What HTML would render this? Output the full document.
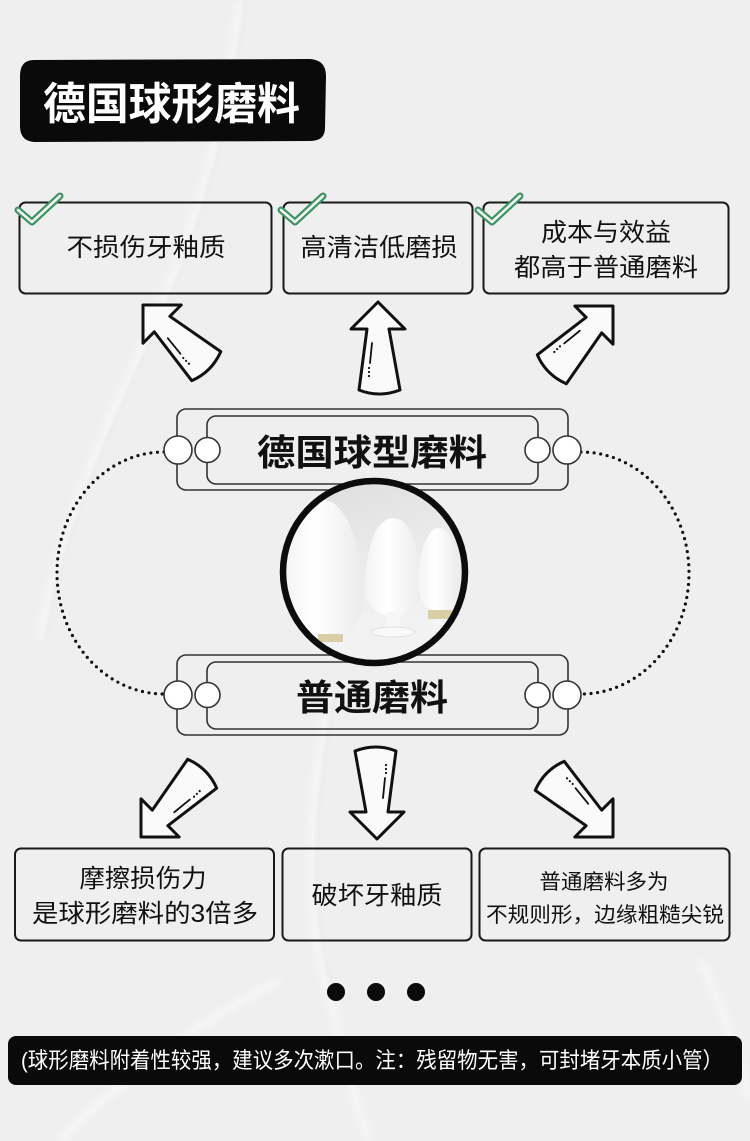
<!DOCTYPE html>
<html>
<head>
<meta charset="utf-8">
<style>
  html,body{margin:0;padding:0;background:#efefef;}
  svg{display:block;}
  text{font-family:"Liberation Sans","Noto Sans CJK SC",sans-serif;}
</style>
</head>
<body>
<svg width="750" height="1141" viewBox="0 0 750 1141" xmlns="http://www.w3.org/2000/svg">
  <defs>
    <filter id="blur4" x="-20%" y="-20%" width="140%" height="140%"><feGaussianBlur stdDeviation="3.5"/></filter>
    <filter id="blur2"><feGaussianBlur stdDeviation="1.5"/></filter>
    <clipPath id="cc"><circle cx="374" cy="572" r="90"/></clipPath>
    <linearGradient id="bgimg" x1="0" y1="0" x2="0.3" y2="1">
      <stop offset="0" stop-color="#dcdcdc"/>
      <stop offset="0.45" stop-color="#e9e9e9"/>
      <stop offset="1" stop-color="#f4f4f4"/>
    </linearGradient>
    <linearGradient id="egg" x1="0" y1="0" x2="1" y2="0">
      <stop offset="0" stop-color="#f3f3f3"/>
      <stop offset="0.4" stop-color="#ffffff"/>
      <stop offset="1" stop-color="#ebebeb"/>
    </linearGradient>
    <g id="arrow">
      <path d="M0,0 L27,27 L11,27 L22,88 Q1,96 -19,88 L-11,27 L-27,27 Z" fill="#fafafa" stroke="#111" stroke-width="3" stroke-linejoin="round"/>
      <path d="M-6,41 L-8,61" stroke="#111" stroke-width="1.8" fill="none" stroke-linecap="round"/>
      <circle cx="-9" cy="66" r="1.1" fill="#111"/>
      <circle cx="-9" cy="70" r="1.1" fill="#111"/>
      <circle cx="-9" cy="74" r="1.1" fill="#111"/>
    </g>
    <g id="check">
      <path d="M18,210 L32,222 L60,196" fill="none" stroke="#3a9560" stroke-width="7" stroke-linecap="round" stroke-linejoin="round"/>
      <path d="M18,210 L32,222 L60,196" fill="none" stroke="#f4f4f4" stroke-width="2.6" stroke-linecap="round" stroke-linejoin="round"/>
    </g>
  </defs>

  <!-- background -->
  <rect x="0" y="0" width="750" height="1141" fill="#efefef"/>
  <g opacity="0.45" filter="url(#blur4)" fill="none" stroke="#ffffff" stroke-width="7">
    <path d="M240,0 C225,120 200,220 150,330 C110,420 60,520 40,640"/>
    <path d="M330,690 C310,800 300,900 330,1000 C350,1080 360,1120 370,1141"/>
    <path d="M700,960 C720,1000 740,1060 750,1100"/>
    <path d="M60,1141 C120,1080 200,1020 280,980"/>
  </g>
  <g opacity="0.3" filter="url(#blur2)" fill="none" stroke="#d8d8d8" stroke-width="2">
    <path d="M246,0 C231,120 206,220 156,330 C116,420 66,520 46,640"/>
    <path d="M336,690 C316,800 306,900 336,1000"/>
  </g>

  <!-- title -->
  <path d="M34,60 L310,59 Q326,60 326,76 L325,128 Q325,141 310,141 L34,142 Q20,141 20,126 L20,76 Q20,60 34,60 Z" fill="#0a0a0a"/>
  <text x="171.5" y="119" font-size="44" font-weight="700" fill="#ffffff" text-anchor="middle" textLength="257" lengthAdjust="spacingAndGlyphs">德国球形磨料</text>

  <!-- top boxes -->
  <g fill="none" stroke="#1a1a1a" stroke-width="2">
    <rect x="19.5" y="202.5" width="252" height="91" rx="6"/>
    <rect x="283.5" y="202.5" width="189" height="91" rx="6"/>
    <rect x="483.5" y="202.5" width="245" height="91" rx="6"/>
  </g>
  <use href="#check"/>
  <use href="#check" transform="translate(263,0)"/>
  <use href="#check" transform="translate(460,0)"/>
  <g fill="#111" font-size="25" text-anchor="middle">
    <text x="146" y="256" textLength="159" lengthAdjust="spacingAndGlyphs">不损伤牙釉质</text>
    <text x="379" y="256" textLength="157" lengthAdjust="spacingAndGlyphs">高清洁低磨损</text>
    <text x="606" y="241" textLength="130" lengthAdjust="spacingAndGlyphs">成本与效益</text>
    <text x="606" y="276" textLength="184" lengthAdjust="spacingAndGlyphs">都高于普通磨料</text>
  </g>

  <!-- top arrows -->
  <use href="#arrow" transform="translate(143,305) rotate(-45)"/>
  <use href="#arrow" transform="translate(378,302)"/>
  <use href="#arrow" transform="translate(613,306) rotate(45)"/>

  <!-- dotted curves -->
  <g fill="none" stroke="#111" stroke-width="3.2" stroke-linecap="round" stroke-dasharray="0 6.6">
    <path d="M164,452 A107 121 0 0 0 164,694"/>
    <path d="M581,452 A108 121 0 0 1 581,694"/>
  </g>

  <!-- label groups -->
  <g fill="none" stroke="#333" stroke-width="1.6">
    <rect x="177" y="409" width="391" height="81" rx="9"/>
    <rect x="207" y="416" width="331" height="68" rx="9"/>
    <rect x="177" y="655" width="391" height="80" rx="9"/>
    <rect x="207" y="662" width="331" height="67" rx="9"/>
  </g>
  <g fill="#ffffff" stroke="#333" stroke-width="1.6">
    <circle cx="178" cy="450" r="14"/>
    <circle cx="207.5" cy="450" r="12.5"/>
    <circle cx="537.5" cy="450" r="12.5"/>
    <circle cx="567" cy="450" r="14"/>
    <circle cx="178" cy="695" r="14"/>
    <circle cx="207.5" cy="695" r="12.5"/>
    <circle cx="537.5" cy="695" r="12.5"/>
    <circle cx="567" cy="695" r="14"/>
  </g>
  <text x="372" y="465" font-size="36" font-weight="700" fill="#111" text-anchor="middle" textLength="230" lengthAdjust="spacingAndGlyphs">德国球型磨料</text>
  <text x="372" y="710" font-size="36" font-weight="700" fill="#111" text-anchor="middle" textLength="152" lengthAdjust="spacingAndGlyphs">普通磨料</text>

  <!-- central image -->
  <g clip-path="url(#cc)">
    <rect x="280" y="478" width="190" height="190" fill="url(#bgimg)"/>
    <path d="M280,478 L350,478 C325,498 300,518 280,555 Z" fill="#d2d2d2" opacity="0.5"/>
    <rect x="280" y="615" width="190" height="60" fill="#f2f2f2"/>
    <!-- left bottle -->
    <path d="M323,500 C350,500 363,560 363,596 C363,626 346,640 323,640 C299,640 282,626 282,596 C282,560 296,500 323,500 Z" fill="url(#egg)"/>
    <rect x="318" y="634" width="25" height="8" fill="#d9cfa6"/>
    <!-- center bottle -->
    <path d="M393,518 C413,518 422,560 422,585 C422,606 410,616 393,616 C376,616 365,606 365,585 C365,560 373,518 393,518 Z" fill="url(#egg)"/>
    <rect x="386" y="612" width="14" height="18" fill="#f7f7f7"/>
    <ellipse cx="393" cy="632" rx="22" ry="5" fill="#f9f9f9" stroke="#e0e0e0" stroke-width="1"/>
    <!-- right bottle -->
    <path d="M439,528 C453,528 460,560 460,582 C460,600 452,612 439,612 C426,612 418,600 418,582 C418,560 425,528 439,528 Z" fill="url(#egg)"/>
    <rect x="428" y="610" width="24" height="9" fill="#d9cfa6"/>
    <rect x="434" y="619" width="14" height="6" fill="#f5f5f5"/>
  </g>
  <circle cx="374" cy="572" r="91" fill="none" stroke="#0c0c0c" stroke-width="6.5"/>

  <!-- bottom arrows -->
  <use href="#arrow" transform="translate(141,837) rotate(-135)"/>
  <use href="#arrow" transform="translate(377,839) rotate(180)"/>
  <use href="#arrow" transform="translate(613,837) rotate(135)"/>

  <!-- bottom boxes -->
  <g fill="none" stroke="#1a1a1a" stroke-width="2">
    <rect x="15" y="848.5" width="259" height="92" rx="6"/>
    <rect x="282.5" y="848.5" width="189" height="92" rx="6"/>
    <rect x="479.5" y="848.5" width="250" height="92" rx="6"/>
  </g>
  <g fill="#111" text-anchor="middle">
    <text x="143" y="887" font-size="25" textLength="127" lengthAdjust="spacingAndGlyphs">摩擦损伤力</text>
    <text x="145" y="922" font-size="25" textLength="226" lengthAdjust="spacingAndGlyphs">是球形磨料的3倍多</text>
    <text x="377" y="904" font-size="25" textLength="131" lengthAdjust="spacingAndGlyphs">破坏牙釉质</text>
    <text x="604" y="889" font-size="21" textLength="129" lengthAdjust="spacingAndGlyphs">普通磨料多为</text>
    <text x="605" y="922" font-size="21" textLength="238" lengthAdjust="spacingAndGlyphs">不规则形，边缘粗糙尖锐</text>
  </g>

  <!-- dots -->
  <g fill="#0a0a0a">
    <circle cx="336" cy="992" r="9"/>
    <circle cx="376" cy="992" r="9"/>
    <circle cx="416" cy="992" r="9"/>
  </g>

  <!-- footer -->
  <rect x="8" y="1036" width="734" height="49" rx="8" fill="#0a0a0a"/>
  <text x="372" y="1068" font-size="22" fill="#ffffff" text-anchor="middle" textLength="702" lengthAdjust="spacingAndGlyphs">(球形磨料附着性较强，建议多次漱口。注：残留物无害，可封堵牙本质小管）</text>
</svg>
</body>
</html>
